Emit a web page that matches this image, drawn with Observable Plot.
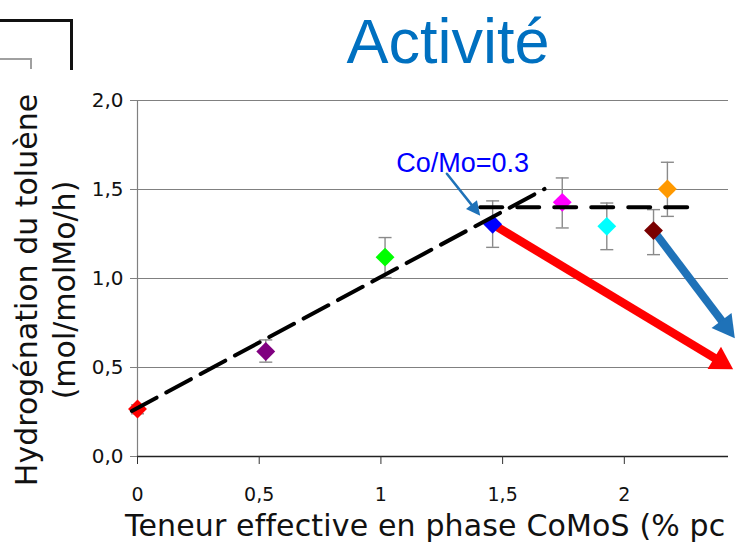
<!DOCTYPE html>
<html>
<head>
<meta charset="utf-8">
<script src="https://cdn.jsdelivr.net/npm/d3@7"></script>
<script src="https://cdn.jsdelivr.net/npm/@observablehq/plot@0.6"></script>
<style>
  html, body { margin: 0; padding: 0; background: #fff; overflow: hidden; }
  #wrap { position: relative; width: 736px; height: 544px; overflow: hidden; background: #fff; }
  #chart { position: absolute; left: 0; top: 0; }
  .abs { position: absolute; white-space: nowrap; }
</style>
</head>
<body>
<div id="wrap">
  <div id="chart"></div>
  <div class="abs" style="left:-10px;top:19px;width:80px;height:48px;border-top:3px solid #111;border-right:3px solid #111;"></div>
  <div class="abs" style="left:-5px;top:58px;width:35px;height:9px;border-top:2px solid #a0a0a0;border-right:2px solid #a0a0a0;"></div>
  <div class="abs" id="title" style="left:248px;width:400px;top:10px;text-align:center;font-family:'Liberation Sans',Arial,sans-serif;font-size:63px;line-height:63px;color:#0070c0;">Activité</div>
  <div class="abs" id="ylab" style="left:-164px;top:252px;width:420px;height:76px;text-align:center;font-family:'DejaVu Sans',sans-serif;font-size:30px;line-height:38px;color:#111;transform:rotate(-90deg);transform-origin:50% 50%;">Hydrogénation du toluène<br>(mol/molMo/h)</div>
  <div class="abs" id="xlab" style="left:125px;top:511px;font-family:'DejaVu Sans',sans-serif;font-size:30px;line-height:30px;letter-spacing:0.15px;color:#111;">Teneur effective en phase CoMoS (% pc</div>
</div>
<script>
// ---- data ----
const xTicks = [0, 0.5, 1, 1.5, 2];
const xTickLabels = ["0", "0,5", "1", "1,5", "2"];
const yTicks = [0, 0.5, 1, 1.5, 2];
const yTickLabels = ["0,0", "0,5", "1,0", "1,5", "2,0"];

// samples: CoMoS content (x) vs toluene hydrogenation activity (y) with error bars
const sampleX    = [0,     0.527, 1.017, 1.459, 1.745, 1.928, 2.120, 2.177];
const sampleY    = [0.267, 0.590, 1.120, 1.305, 1.428, 1.293, 1.269, 1.503];
const sampleLow  = [0.240, 0.530, 1.005, 1.175, 1.284, 1.162, 1.134, 1.349];
const sampleHigh = [0.290, 0.655, 1.230, 1.436, 1.565, 1.424, 1.387, 1.653];
const sampleColors = ["#ff0000", "#800080", "#00ff00", "#0000ff", "#ff00ff", "#00ffff", "#7a0000", "#ff9900"];

// dashed trend lines
const trendX = [-0.023, 1.672];
const trendY = [0.256, 1.503];
const plateauX = [1.408, 2.311];
const plateauY = [1.400, 1.400];

// arrows (from -> to)
const redArrowFrom = [1.459, 1.305];
const redArrowTo   = [2.447, 0.490];
const blueArrowFrom = [2.120, 1.269];
const blueArrowTo   = [2.454, 0.665];
const noteArrowFrom = [1.271, 1.588];
const noteArrowTo   = [1.408, 1.353];

// annotation
const noteText = "Co/Mo=0.3";
const noteX = 1.336;
const noteY = 1.648;

// ---- layout ----
const W = 736, H = 544;
const mL = 137, mR = 8, mT = 100, mB = 88;
const xDomain = [0, 2.428];
const yDomain = [0, 2];

const samples = sampleX.map((x, i) => ({x, y: sampleY[i], lo: sampleLow[i], hi: sampleHigh[i], c: sampleColors[i]}));
const trend = trendX.map((x, i) => ({x, y: trendY[i]}));
const plateau = plateauX.map((x, i) => ({x, y: plateauY[i]}));

const xs = Plot.scale({x: {domain: xDomain, range: [mL, W - mR]}});
const ys = Plot.scale({y: {domain: yDomain, range: [H - mB, mT]}});

function arrowGeom(from, to, L) {
  const x0 = xs.apply(from[0]), y0 = ys.apply(from[1]);
  const x1 = xs.apply(to[0]), y1 = ys.apply(to[1]);
  const a = Math.atan2(y1 - y0, x1 - x0);
  const bx = x1 - L * Math.cos(a), by = y1 - L * Math.sin(a);
  return {
    shaft: [{x: from[0], y: from[1]}, {x: xs.invert(bx + 1.5 * Math.cos(a)), y: ys.invert(by + 1.5 * Math.sin(a))}],
    tip: [{x: to[0], y: to[1], rot: a * 180 / Math.PI}]
  };
}
function headSymbol(L, Wd) {
  return {draw(ctx) { ctx.moveTo(0, 0); ctx.lineTo(-L, -Wd / 2); ctx.lineTo(-L, Wd / 2); ctx.closePath(); }};
}
const capSymbol = {draw(ctx) { ctx.moveTo(-6.5, 0); ctx.lineTo(6.5, 0); }};

const red = arrowGeom(redArrowFrom, redArrowTo, 22);
const blue = arrowGeom(blueArrowFrom, blueArrowTo, 22);
const note = arrowGeom(noteArrowFrom, noteArrowTo, 14);

const blueArrowColor = "#1f72b8";

const chart = Plot.plot({
  width: W, height: H,
  marginLeft: mL, marginRight: mR, marginTop: mT, marginBottom: mB,
  style: {fontFamily: "'DejaVu Sans', sans-serif", background: "transparent", color: "#111"},
  x: {domain: xDomain, range: [mL, W - mR], label: null},
  y: {domain: yDomain, range: [H - mB, mT], label: null},
  marks: [
    Plot.ruleY(yTicks.slice(1), {stroke: "#808080", strokeWidth: 1.2}),
    Plot.ruleX([0], {y1: 0, y2: 2, stroke: "#808080", strokeWidth: 1.2}),
    Plot.ruleY([0], {stroke: "#222", strokeWidth: 1.3}),
    Plot.axisY({ticks: yTicks, tickFormat: d => yTickLabels[yTicks.indexOf(d)], tickSize: 7, tickPadding: 7, fontSize: 20, stroke: "#808080", label: null}),
    Plot.axisX({ticks: xTicks, tickFormat: d => xTickLabels[xTicks.indexOf(d)], tickSize: 8, tickPadding: 23, fontSize: 19, stroke: "#333", label: null}),
    // error bars
    Plot.ruleX(samples, {x: "x", y1: "lo", y2: "hi", stroke: "#8a8a8a", strokeWidth: 1.4}),
    Plot.dot(samples, {x: "x", y: "lo", symbol: capSymbol, stroke: "#8a8a8a", strokeWidth: 1.4, fill: "none"}),
    Plot.dot(samples, {x: "x", y: "hi", symbol: capSymbol, stroke: "#8a8a8a", strokeWidth: 1.4, fill: "none"}),
    // arrows
    Plot.line(red.shaft, {x: "x", y: "y", stroke: "#ff0000", strokeWidth: 8.5, strokeLinecap: "butt"}),
    Plot.dot(red.tip, {x: "x", y: "y", rotate: "rot", symbol: headSymbol(22, 26), fill: "#ff0000", stroke: "none"}),
    Plot.line(blue.shaft, {x: "x", y: "y", stroke: blueArrowColor, strokeWidth: 8, strokeLinecap: "butt"}),
    Plot.dot(blue.tip, {x: "x", y: "y", rotate: "rot", symbol: headSymbol(22, 25), fill: blueArrowColor, stroke: "none"}),
    // samples
    Plot.dot(samples, {x: "x", y: "y", symbol: "diamond2", r: 8.5, fill: "c", stroke: "none"}),
    // dashed lines
    Plot.line(trend, {x: "x", y: "y", stroke: "#000", strokeWidth: 4, strokeDasharray: "28,11"}),
    Plot.line(plateau, {x: "x", y: "y", stroke: "#000", strokeWidth: 4, strokeDasharray: "22,15"}),
    // annotation
    Plot.line(note.shaft, {x: "x", y: "y", stroke: blueArrowColor, strokeWidth: 2.5}),
    Plot.dot(note.tip, {x: "x", y: "y", rotate: "rot", symbol: headSymbol(14, 14), fill: blueArrowColor, stroke: "none"}),
    Plot.text([noteText], {x: noteX, y: noteY, text: d => d, fill: "#0000ff", fontSize: 27, fontFamily: "'Liberation Sans', Arial, sans-serif", textAnchor: "middle"})
  ]
});
document.getElementById("chart").appendChild(chart);
</script>
</body>
</html>
